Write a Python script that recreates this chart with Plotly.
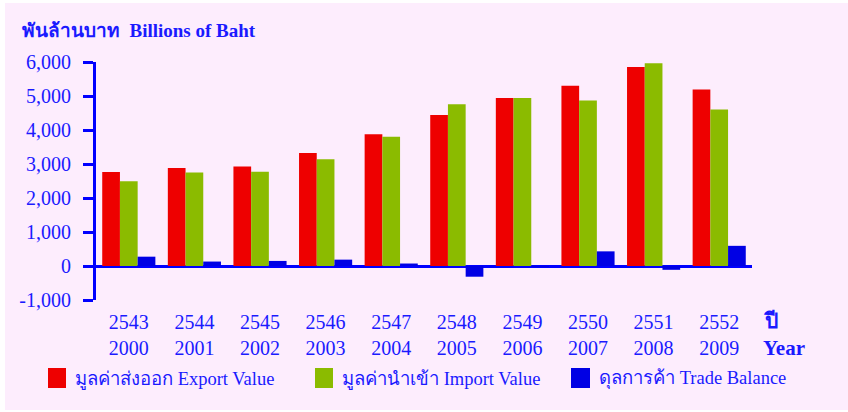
import plotly.graph_objects as go

be_years = ["2543", "2544", "2545", "2546", "2547", "2548", "2549", "2550", "2551", "2552"]
ad_years = ["2000", "2001", "2002", "2003", "2004", "2005", "2006", "2007", "2008", "2009"]
export_value = [2768, 2884, 2924, 3326, 3874, 4439, 4938, 5302, 5851, 5194]
import_value = [2494, 2753, 2775, 3139, 3801, 4754, 4943, 4871, 5963, 4601]
trade_balance = [274, 131, 149, 187, 73, -315, -5, 431, -112, 593]
y_ticks = [-1000, 0, 1000, 2000, 3000, 4000, 5000, 6000]
y_tick_labels = ["-1,000", "0", "1,000", "2,000", "3,000", "4,000", "5,000", "6,000"]
series_names = ["มูลค่าส่งออก Export Value", "มูลค่านำเข้า Import Value", "ดุลการค้า Trade Balance"]

RED = "#ee0000"
GREEN = "#8bbb00"
BLUE = "#0000e4"
AXIS = "#0000ff"
TEXT = "#1a1aff"
PINK = "#fdedfd"
SERIF = "Liberation Serif, Times New Roman, serif"

W, H = 848, 412
L, R, T, B = 96, 96, 62, 112
PW, PH = W - L - R, H - T - B


def px_x(x):
    return (x - L) / PW


def px_y(y):
    return (H - B - y) / PH


x_idx = list(range(len(be_years)))
fig = go.Figure()
for vals, col, name in zip([export_value, import_value, trade_balance], [RED, GREEN, BLUE], series_names):
    fig.add_trace(go.Bar(x=x_idx, y=vals, name=name, marker=dict(color=col, line=dict(width=0)),
                         showlegend=False))

fig.update_layout(
    width=W, height=H,
    margin=dict(l=L, r=R, t=T, b=B),
    paper_bgcolor="white",
    plot_bgcolor="rgba(0,0,0,0)",
    barmode="group", bargap=0.19, bargroupgap=0,
    font=dict(family=SERIF, color=TEXT, size=20),
    xaxis=dict(range=[-0.5, 9.5], tickmode="array", tickvals=x_idx,
               ticktext=[f"{a}<br>{b}" for a, b in zip(be_years, ad_years)],
               showline=False, showgrid=False, zeroline=False, ticks="",
               tickfont=dict(family=SERIF, size=20, color=TEXT), ticklabelstandoff=8),
    yaxis=dict(range=[-1000, 6000], tickmode="array", tickvals=y_ticks, ticktext=y_tick_labels,
               showline=True, linecolor=AXIS, linewidth=3, mirror=False,
               ticks="outside", ticklen=10, tickwidth=3, tickcolor=AXIS,
               showgrid=False, zeroline=True, zerolinecolor=AXIS, zerolinewidth=3,
               tickfont=dict(family=SERIF, size=20, color=TEXT), ticklabelstandoff=8),
)

shapes = [dict(type="rect", xref="paper", yref="paper", layer="below",
               x0=px_x(5), x1=px_x(848), y0=px_y(410), y1=px_y(3),
               fillcolor=PINK, line=dict(width=0))]
leg_sq = [(48, 66), (315, 333), (571, 590)]
leg_tx = [73, 340, 597]
for (x0, x1), col in zip(leg_sq, [RED, GREEN, BLUE]):
    shapes.append(dict(type="rect", xref="paper", yref="paper",
                       x0=px_x(x0), x1=px_x(x1), y0=px_y(388), y1=px_y(368),
                       fillcolor=col, line=dict(width=0)))
fig.update_layout(shapes=shapes)

ann = []
for xt, name in zip(leg_tx, series_names):
    ann.append(dict(text=name, xref="paper", yref="paper", x=px_x(xt), y=px_y(379),
                    xanchor="left", yanchor="middle", showarrow=False,
                    font=dict(family=SERIF, size=18.5, color=TEXT)))
ann.append(dict(text="<b>พันล้านบาท  Billions of Baht</b>", xref="paper", yref="paper",
                x=px_x(20), y=px_y(30), xanchor="left", yanchor="middle", showarrow=False,
                font=dict(family=SERIF, size=19, color=TEXT)))
ann.append(dict(text="<b>ปี</b>", xref="paper", yref="paper",
                x=px_x(761), y=px_y(321), xanchor="left", yanchor="middle", showarrow=False,
                font=dict(family=SERIF, size=21, color=TEXT)))
ann.append(dict(text="<b>Year</b>", xref="paper", yref="paper",
                x=px_x(761), y=px_y(348), xanchor="left", yanchor="middle", showarrow=False,
                font=dict(family=SERIF, size=21, color=TEXT)))
fig.update_layout(annotations=ann)

fig.write_html("out.html", config={"displayModeBar": False},
               post_script="document.body.style.margin='0px';")
